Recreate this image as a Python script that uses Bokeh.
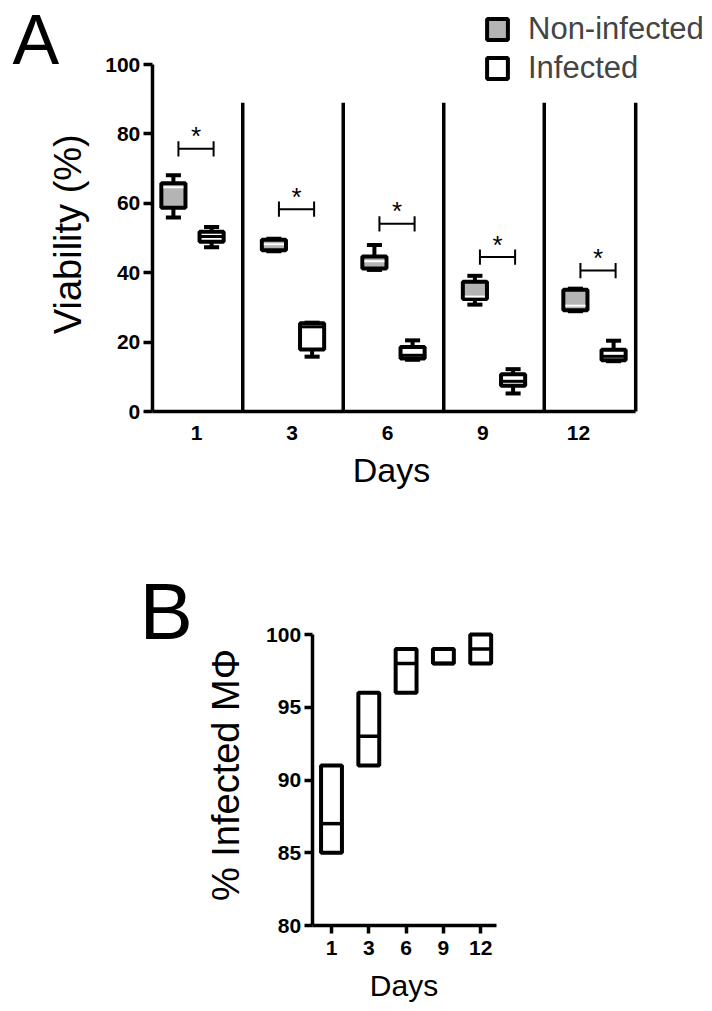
import math
from bokeh.plotting import figure
from bokeh.models import Range1d, FixedTicker, LinearAxis, Legend, LegendItem
from bokeh.layouts import column
from bokeh.embed import file_html
from bokeh.resources import INLINE

# ---------------- data ----------------
days = ["1", "3", "6", "9", "12"]

# Panel A: viability (%) box-plot summaries
ni_min = [55.9, 46.2, 40.8, 30.8, 28.9]
ni_q1 = [58.7, 46.5, 41.2, 32.4, 29.2]
ni_med = [64.6, 48.2, 43.3, 33.1, 30.5]
ni_q3 = [65.8, 49.5, 44.7, 37.4, 35.1]
ni_max = [68.1, 49.8, 48.0, 39.1, 35.4]

inf_min = [47.3, 15.8, 14.9, 5.2, 14.5]
inf_q1 = [48.9, 17.9, 15.3, 7.4, 14.8]
inf_med = [50.4, 24.4, 16.2, 8.7, 15.9]
inf_q3 = [51.8, 25.4, 18.6, 10.7, 17.8]
inf_max = [53.2, 25.6, 20.5, 12.2, 20.4]

sig_y = [75.7, 58.3, 54.1, 44.5, 40.6]
sig_text = ["*", "*", "*", "*", "*"]

# Panel B: % infected macrophages (min, median, max)
b_min = [85, 91, 96, 98, 98]
b_med = [87, 93, 98, 98, 99]
b_max = [91, 96, 99, 99, 100]

# ---------------- style ----------------
FONT = "Liberation Sans"
GRAY = "#b4b4b4"
LW = 4
W = 708


def style_axis(ax, tick_out, standoff):
    ax.axis_line_width = 3.5
    ax.axis_line_color = "black"
    ax.major_tick_line_width = 3.5
    ax.major_tick_line_color = "black"
    ax.major_tick_out = tick_out
    ax.major_tick_in = 0
    ax.minor_tick_out = 0
    ax.minor_tick_in = 0
    ax.major_label_text_font = FONT
    ax.major_label_text_font_size = "21px"
    ax.major_label_text_font_style = "bold"
    ax.major_label_text_color = "black"
    ax.major_label_standoff = standoff


def make_fig(height, x0_px, ux, y0_px, uy, y0_val, top_px):
    # frame fills the whole figure; data ranges derived from pixel scale
    xr = Range1d((0 - x0_px) / ux, (W - x0_px) / ux)
    yr = Range1d(y0_val - (top_px + height - y0_px) / uy, y0_val + (y0_px - top_px) / uy)
    f = figure(width=W, height=height, x_range=xr, y_range=yr, output_backend="svg",
               toolbar_location=None, x_axis_location=None, y_axis_location=None,
               min_border_left=0, min_border_right=0, min_border_top=0, min_border_bottom=0)
    f.outline_line_color = None
    f.xgrid.visible = False
    f.ygrid.visible = False
    return f


def txt(f, x, y, s, size, angle=0.0, align="center"):
    f.text(x=[x], y=[y], text=[s], angle=angle, text_align=align, text_baseline="middle",
           text_font={"value": FONT}, text_font_size=size, text_color="black")


# ---------------- Panel A ----------------
HA = 522
pA = make_fig(HA, x0_px=192, ux=100.5, y0_px=411, uy=3.47, y0_val=0, top_px=0)

n = len(days)
grp = list(range(n))
off = 0.19
bw = 0.24
ni_x = [g - off for g in grp]
inf_x = [g + off for g in grp]
xa0, xa1 = -0.4, 4.41

sep_x = [g + 0.5 for g in grp[:-1]] + [xa1]
pA.segment(x0=sep_x, y0=[0] * len(sep_x), x1=sep_x, y1=[89] * len(sep_x),
           line_color="black", line_width=3.5)

for xs, mn, q1, md, q3, mx in [
    (ni_x, ni_min, ni_q1, ni_med, ni_q3, ni_max),
    (inf_x, inf_min, inf_q1, inf_med, inf_q3, inf_max),
]:
    pA.segment(x0=xs, y0=q3, x1=xs, y1=mx, line_color="black", line_width=LW)
    pA.segment(x0=xs, y0=q1, x1=xs, y1=mn, line_color="black", line_width=LW)
    pA.segment(x0=[x - 0.075 for x in xs], y0=mx, x1=[x + 0.075 for x in xs], y1=mx,
               line_color="black", line_width=LW)
    pA.segment(x0=[x - 0.075 for x in xs], y0=mn, x1=[x + 0.075 for x in xs], y1=mn,
               line_color="black", line_width=LW)

ni_box = pA.vbar(x=ni_x, width=bw, bottom=ni_q1, top=ni_q3, fill_color=GRAY,
                 line_color="black", line_width=LW)
inf_box = pA.vbar(x=inf_x, width=bw, bottom=inf_q1, top=inf_q3, fill_color="white",
                  line_color="black", line_width=LW)
pA.segment(x0=[x - bw / 2 + 0.02 for x in ni_x], y0=ni_med, x1=[x + bw / 2 - 0.02 for x in ni_x],
           y1=ni_med, line_color="white", line_width=2)
pA.segment(x0=[x - bw / 2 for x in inf_x], y0=inf_med, x1=[x + bw / 2 for x in inf_x],
           y1=inf_med, line_color="black", line_width=3)

# significance brackets
bl = [g - 0.14 for g in grp]
br = [g + 0.21 for g in grp]
pA.segment(x0=bl, y0=sig_y, x1=br, y1=sig_y, line_color="black", line_width=2)
pA.segment(x0=bl, y0=[y - 2.2 for y in sig_y], x1=bl, y1=[y + 2.2 for y in sig_y],
           line_color="black", line_width=2)
pA.segment(x0=br, y0=[y - 2.2 for y in sig_y], x1=br, y1=[y + 2.2 for y in sig_y],
           line_color="black", line_width=2)
pA.text(x=[(a + b) / 2 for a, b in zip(bl, br)], y=[y + 3.6 for y in sig_y], text=sig_text,
        text_align="center", text_baseline="middle", text_font_size="26px",
        text_font={"value": FONT}, text_color="black")

# axes (fixed at the data origin lines)
tick_pos = [round(0.04 + 0.95 * i, 2) for i in range(n)]
axA_x = LinearAxis(fixed_location=0, bounds=(xa0, xa1), ticker=FixedTicker(ticks=tick_pos),
                   major_label_overrides={t: d for t, d in zip(tick_pos, days)})
style_axis(axA_x, 0, 14)
pA.add_layout(axA_x, "below")
axA_y = LinearAxis(fixed_location=xa0, bounds=(0, 100),
                   ticker=FixedTicker(ticks=[0, 20, 40, 60, 80, 100]))
style_axis(axA_y, 9, 3)
pA.add_layout(axA_y, "left")

txt(pA, -1.239, 51.1, "Viability (%)", "38px", angle=math.pi / 2)
txt(pA, 1.98, -16.77, "Days", "34px")
txt(pA, -1.791, 107.06, "A", "70px", align="left")

legend = Legend(items=[LegendItem(label="Non-infected", renderers=[ni_box]),
                       LegendItem(label="Infected", renderers=[inf_box])],
                location=(484, 436), glyph_width=26, glyph_height=26,
                label_text_font=FONT, label_text_font_size="31px", label_standoff=18,
                spacing=3, padding=0, margin=0, border_line_alpha=0,
                background_fill_alpha=0)
pA.add_layout(legend)

# ---------------- Panel B ----------------
HB = 486
pB = make_fig(HB, x0_px=331, ux=37.3, y0_px=634, uy=14.55, y0_val=100, top_px=HA)

bbw = 0.56
pB.vbar(x=grp, width=bbw, bottom=b_min, top=b_max, fill_color="white",
        line_color="black", line_width=LW)
pB.segment(x0=[g - bbw / 2 for g in grp], y0=b_med, x1=[g + bbw / 2 for g in grp], y1=b_med,
           line_color="black", line_width=3.5)

xb0, xb1 = -0.52, 4.42
axB_x = LinearAxis(fixed_location=80, bounds=(xb0, xb1), ticker=FixedTicker(ticks=grp),
                   major_label_overrides={g: d for g, d in zip(grp, days)})
style_axis(axB_x, 8, 7)
pB.add_layout(axB_x, "below")
axB_y = LinearAxis(fixed_location=xb0, bounds=(80, 100),
                   ticker=FixedTicker(ticks=[80, 85, 90, 95, 100]))
style_axis(axB_y, 8, 3)
pB.add_layout(axB_y, "left")

txt(pB, -2.828, 90.34, "% Infected M\u03a6", "38px", angle=math.pi / 2)
txt(pB, 1.944, 75.88, "Days", "30px")
txt(pB, -5.147, 101.58, "B", "80px", align="left")

p = column(pA, pB)
open("out.html", "w").write(file_html(p, INLINE))
